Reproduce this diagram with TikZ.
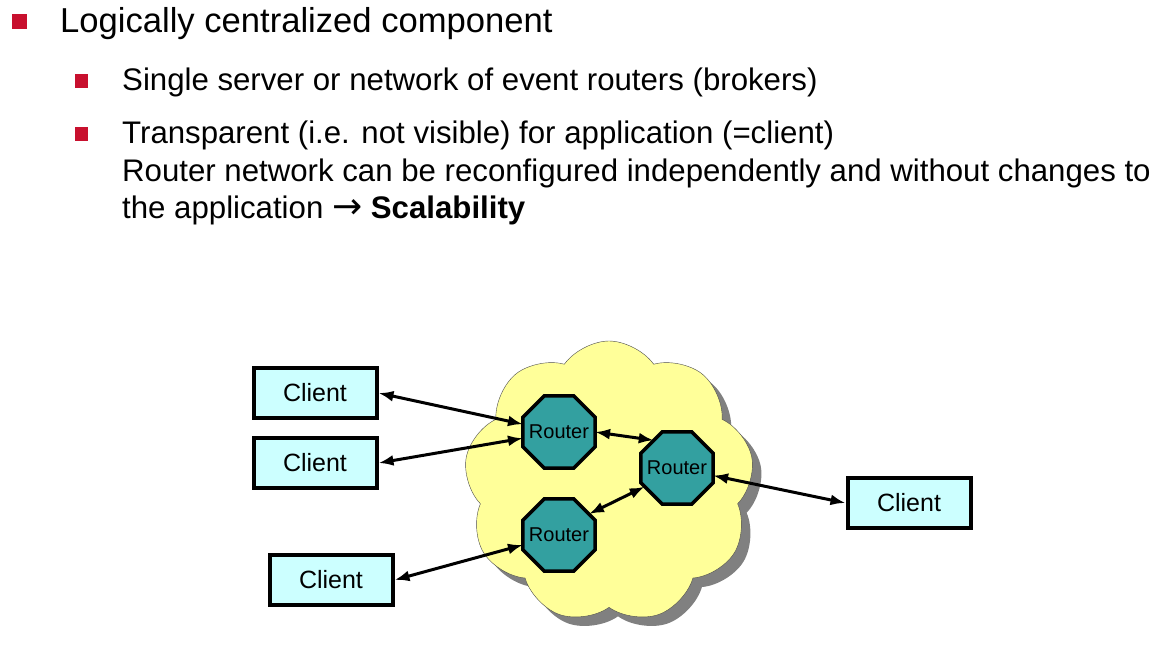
\documentclass[tikz,border=0pt]{standalone}
\usepackage{fontspec}
\setmainfont{Liberation Sans}
\newfontfamily\symfont{DejaVu Sans}
\usetikzlibrary{arrows, arrows.meta, positioning, shapes.geometric, shapes.symbols, shadows}
\definecolor{bulletred}{RGB}{200,16,46}
\definecolor{clientcyan}{RGB}{204,255,255}
\definecolor{routerteal}{RGB}{51,160,160}
\definecolor{cloudyellow}{RGB}{255,255,153}
\begin{document}
\begin{tikzpicture}[x=1pt, y=-1pt]
		\tikzstyle{Bullet} = [rectangle, minimum size=15pt, inner sep=0pt, fill=bulletred]
		\tikzstyle{SubBullet} = [rectangle, minimum size=13.5pt, inner sep=0pt, fill=bulletred]
		\tikzstyle{Line} = [anchor=base west, inner sep=0pt, font=\fontsize{34.6}{40}\selectfont]
		\tikzstyle{SubLine} = [anchor=base west, inner sep=0pt, font=\fontsize{31.2}{36}\selectfont]
		\tikzstyle{Client} = [rectangle, minimum width=123pt, minimum height=50pt, text centered, draw=black, fill=clientcyan, line width=4pt, font=\fontsize{25}{30}\selectfont]
		\tikzstyle{Router} = [regular polygon, regular polygon sides=8, minimum size=78pt, inner sep=0pt, outer sep=0pt, draw=black, fill=routerteal, line width=3.5pt, label={[font=\fontsize{20}{24}\selectfont]center:Router}]
		\tikzstyle{Cloud} = [cloud, cloud puffs=9, cloud puff arc=110, aspect=1, minimum width=290pt, minimum height=282pt, draw=black!70, thin, fill=cloudyellow, drop shadow={shadow xshift=9pt, shadow yshift=-9pt, fill=gray, opacity=1}]
		\tikzstyle{arrow} = [line width=3pt, {Latex[length=15pt, width=11pt]}-{Latex[length=15pt, width=11pt]}]
		\useasboundingbox (0,0) rectangle (1164,646);

		% bullet text
		\node (b1) [Bullet] at (19.5,21) {};
		\node (t1) [Line] at (60,32) {Logically centralized component};
		\node (b2) [SubBullet] at (81.5,81) {};
		\node (t2) [SubLine] at (122,90) {Single server or network of event routers (brokers)};
		\node (b3) [SubBullet] at (81.5,134) {};
		\node (t3) [SubLine] at (122,143) {Transparent (i.e. not visible) for application (=client)};
		\node (t4) [SubLine] at (122,181) {Router network can be reconfigured independently and without changes to};
		\node (t5) [SubLine] at (122,218) {the application {\symfont\fontsize{36}{36}\selectfont →} \textbf{Scalability}};

		% network
		\node (net) [Cloud] at (609,482) {};
		\node (r1) [Router] at (559,432) {};
		\node (r2) [Router] at (677,468) {};
		\node (r3) [Router] at (559,535) {};
		\node (c1) [Client] at (315,393) {Client};
		\node (c2) [Client, below=16pt of c1] {Client};
		\node (c3) [Client] at (331,580) {Client};
		\node (c4) [Client] at (909,503) {Client};

		\draw [arrow] (c1.east) -- (r1);
		\draw [arrow] (c2.east) -- (r1);
		\draw [arrow] (c3.east) -- (r3);
		\draw [arrow] (c4.west) -- (r2);
		\draw [arrow] (r1.east) -- (r2.130);
		\draw [arrow] (r2.210) -- (r3.35);
\end{tikzpicture}
\end{document}
